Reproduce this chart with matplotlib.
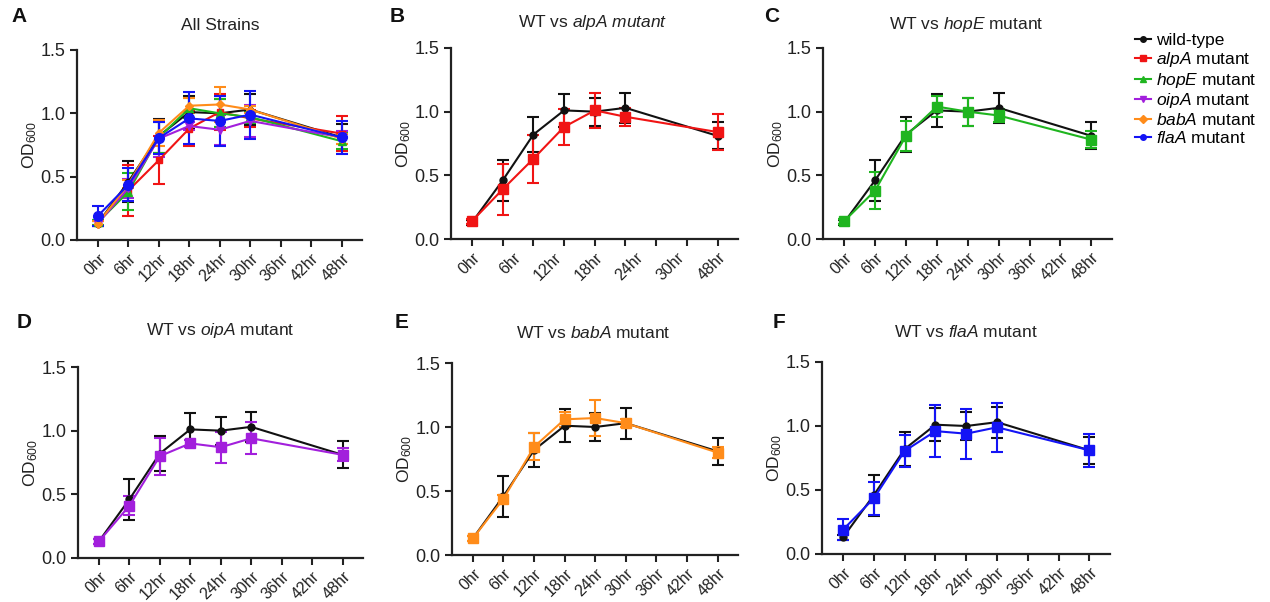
import numpy as np
import matplotlib
matplotlib.use("Agg")
import matplotlib.pyplot as plt
from matplotlib.lines import Line2D

plt.rcParams['font.family'] = ['Liberation Sans', 'DejaVu Sans']
plt.rcParams['mathtext.fontset'] = 'custom'
plt.rcParams['mathtext.rm'] = 'Liberation Sans'
plt.rcParams['mathtext.it'] = 'Liberation Sans:italic'
plt.rcParams['mathtext.bf'] = 'Liberation Sans:bold'

# sampling times (hours) and axis ticks
hours = [0, 6, 12, 18, 24, 30, 48]
tick_hours = [0, 6, 12, 18, 24, 30, 36, 42, 48]
tick_labels = ["0hr", "6hr", "12hr", "18hr", "24hr", "30hr", "36hr", "42hr", "48hr"]
tick_labels_b = ["0hr", "6hr", "12hr", "18hr", "24hr", "30hr", "48hr"]

# OD600 means and standard deviations
wt_mean = [0.13, 0.46, 0.82, 1.01, 1.00, 1.03, 0.81]
wt_sd = [0.02, 0.16, 0.135, 0.13, 0.11, 0.12, 0.105]
alpA_mean = [0.14, 0.39, 0.63, 0.88, 1.01, 0.96, 0.84]
alpA_sd = [0.02, 0.20, 0.19, 0.14, 0.14, 0.07, 0.14]
hopE_mean = [0.14, 0.38, 0.81, 1.04, 1.00, 0.97, 0.78]
hopE_sd = [0.02, 0.145, 0.12, 0.08, 0.11, 0.05, 0.065]
oipA_mean = [0.13, 0.41, 0.80, 0.90, 0.87, 0.94, 0.81]
oipA_sd = [0.02, 0.075, 0.145, 0.03, 0.12, 0.125, 0.05]
babA_mean = [0.13, 0.44, 0.845, 1.06, 1.07, 1.03, 0.80]
babA_sd = [0.02, 0.03, 0.105, 0.06, 0.14, 0.03, 0.04]
flaA_mean = [0.19, 0.435, 0.805, 0.96, 0.94, 0.99, 0.81]
flaA_sd = [0.08, 0.13, 0.125, 0.205, 0.195, 0.19, 0.13]

strains = [
    ("wild-type", wt_mean, wt_sd, "#111111", "o", 4.5),
    ("$\\it{alpA}$ mutant", alpA_mean, alpA_sd, "#f01414", "s", 5.0),
    ("$\\it{hopE}$ mutant", hopE_mean, hopE_sd, "#1fb51f", "^", 5.5),
    ("$\\it{oipA}$ mutant", oipA_mean, oipA_sd, "#a21fdc", "v", 5.5),
    ("$\\it{babA}$ mutant", babA_mean, babA_sd, "#ff8c1a", "D", 4.0),
    ("$\\it{flaA}$ mutant", flaA_mean, flaA_sd, "#1414f5", "o", 7.0),
]

W, H = 1270, 602
fig = plt.figure(figsize=(W / 100, H / 100), dpi=100)

def add_axes_px(left, right, top, bottom):
    return fig.add_axes([left / W, 1 - bottom / H, (right - left) / W, (bottom - top) / H])

def style_axes(ax, labels_b=False):
    ax.set_xlim(-4.1, 52)
    ax.set_ylim(0, 1.5)
    ax.set_yticks([0.0, 0.5, 1.0, 1.5])
    ax.set_yticklabels(["0.0", "0.5", "1.0", "1.5"])
    for s in ("top", "right"):
        ax.spines[s].set_visible(False)
    for s in ("left", "bottom"):
        ax.spines[s].set_linewidth(1.6)
        ax.spines[s].set_color("#222222")
    ax.tick_params(axis="both", direction="out", length=5, width=1.5,
                   colors="#222222", labelsize=13)
    ax.set_xticks(tick_hours)
    if labels_b:
        ax.xaxis.remove_overlapping_locs = False
        ax.set_xticklabels([])
        pos = np.linspace(tick_hours[0], tick_hours[-1], len(tick_labels_b))
        ax.set_xticks(pos, minor=True)
        ax.set_xticklabels(tick_labels_b, minor=True, rotation=45, ha="right",
                           rotation_mode="anchor", fontsize=11.5, color="#222222")
        ax.tick_params(axis="x", which="minor", length=0, pad=8)
    else:
        ax.set_xticklabels(tick_labels, rotation=45, ha="right",
                           rotation_mode="anchor", fontsize=11.5, color="#222222")
        ax.tick_params(axis="x", pad=3)
    ax.set_ylabel("OD$_{600}$", fontsize=12.5, color="#222222", labelpad=1)

def draw(ax, mean, sd, color, marker, ms):
    ax.errorbar(hours, mean, yerr=sd, color=color, marker=marker, markersize=ms,
                linewidth=1.5, elinewidth=1.5, capsize=4, capthick=1.5, clip_on=False)

# Panel A: all strains together
axA = add_axes_px(77, 362, 50, 240)
for name, m, s, c, mk, ms in strains:
    draw(axA, m, s, c, mk, ms)
style_axes(axA)

# Panels B-F: wild-type vs each mutant
boxes = [
    (451, 738, 48, 239),
    (823, 1112, 48, 239),
    (78, 363, 367, 558),
    (452, 738, 363, 555),
    (822, 1110, 362, 554),
]
wt = strains[0]
for i, box in enumerate(boxes):
    ax = add_axes_px(*box)
    draw(ax, wt[1], wt[2], wt[3], "o", 5)
    mut = strains[i + 1]
    draw(ax, mut[1], mut[2], mut[3], "s", 6.5)
    style_axes(ax, labels_b=(i == 0))

# panel titles
titles = [
    ("All Strains", 220, 25),
    ("WT vs $\\it{alpA\\ mutant}$", 593, 22),
    ("WT vs $\\it{hopE}$ mutant", 966, 25),
    ("WT vs $\\it{oipA}$ mutant", 220, 330),
    ("WT vs $\\it{babA}$ mutant", 593, 333),
    ("WT vs $\\it{flaA}$ mutant", 966, 332),
]
for t, x, y in titles:
    fig.text(x / W, 1 - y / H, t, ha="center", va="center", fontsize=12.5, color="#222222")

letters = [("A", 19, 17), ("B", 397, 17), ("C", 772, 17),
           ("D", 24, 323), ("E", 402, 323), ("F", 779, 323)]
for t, x, y in letters:
    fig.text(x / W, 1 - y / H, t, ha="center", va="center", fontsize=15,
             fontweight="bold", color="#111111")

# legend
handles = [Line2D([0], [0], color=c, marker=mk, markersize=4, linewidth=1.5)
           for _, _, _, c, mk, _ in strains]
labels = [s[0] for s in strains]
fig.legend(handles, labels, loc="upper left", bbox_to_anchor=(1135 / W, 1 - 33 / H),
           frameon=False, fontsize=12.5, handlelength=0.9, handletextpad=0.3,
           labelspacing=0.1, borderpad=0, borderaxespad=0)

fig.savefig("out.png", dpi=100)
